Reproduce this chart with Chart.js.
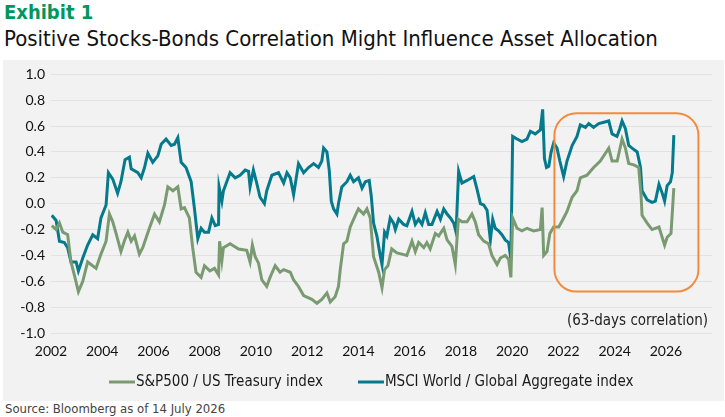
<!DOCTYPE html>
<html>
<head>
<meta charset="utf-8">
<script src="https://cdn.jsdelivr.net/npm/chart.js@4"></script>
<style>
  body { margin: 0; background: #fff; width: 725px; height: 417px; overflow: hidden; position: relative; }
  .cond { font-family: "Liberation Sans Narrow", "DejaVu Sans Condensed", "Roboto", sans-serif; }
  #exhibit { position: absolute; left: 4px; top: 0px; font-size: 20px; font-weight: bold; color: #00965e; }
  #title { position: absolute; left: 4px; top: 26px; font-size: 22px; color: #111; }
  #panel { position: absolute; left: 3px; top: 60px; width: 721px; height: 341px; background: #f2f2f2; }
  #source { position: absolute; left: 5px; top: 401px; font-size: 13px; color: #444; }
</style>
</head>
<body>
<div id="exhibit" class="cond">Exhibit 1</div>
<div id="title" class="cond">Positive Stocks-Bonds Correlation Might Influence Asset Allocation</div>
<div id="panel"><canvas id="corrChart"></canvas></div>
<div id="source" class="cond">Source: Bloomberg as of 14 July 2026</div>

<script>
// --- data ---
const spxLabel = 'S&P500 / US Treasury index';
const msciLabel = 'MSCI World / Global Aggregate index';

const spxYears = [2002.03, 2002.2, 2002.33, 2002.46, 2002.65, 2002.78, 2002.91, 2003.07, 2003.24, 2003.43,
  2003.56, 2003.76, 2003.95, 2004.15, 2004.28, 2004.41, 2004.54, 2004.73, 2004.86, 2005.0,
  2005.13, 2005.26, 2005.45, 2005.58, 2005.84, 2006.04, 2006.23, 2006.43, 2006.56, 2006.76,
  2006.95, 2007.08, 2007.21, 2007.4, 2007.53, 2007.66, 2007.86, 2007.99, 2008.2, 2008.38,
  2008.54, 2008.58, 2008.67, 2008.73, 2008.99, 2009.32, 2009.64, 2009.77, 2009.86, 2009.97,
  2010.1, 2010.23, 2010.42, 2010.55, 2010.75, 2010.94, 2011.08, 2011.34, 2011.47, 2011.66,
  2011.86, 2012.18, 2012.38, 2012.57, 2012.77, 2012.9, 2013.09, 2013.22, 2013.29, 2013.42,
  2013.55, 2013.68, 2013.88, 2014.0, 2014.2, 2014.33, 2014.46, 2014.59, 2014.79, 2014.92,
  2015.02, 2015.15, 2015.3, 2015.5, 2015.7, 2015.89, 2016.09, 2016.22, 2016.35, 2016.55,
  2016.67, 2016.8, 2017.0, 2017.13, 2017.33, 2017.46, 2017.65, 2017.78, 2017.9, 2018.04,
  2018.24, 2018.43, 2018.56, 2018.69, 2018.89, 2019.08, 2019.21, 2019.41, 2019.54, 2019.73,
  2019.86, 2019.95, 2020.02, 2020.19, 2020.38, 2020.58, 2020.84, 2021.1, 2021.17, 2021.23,
  2021.36, 2021.47, 2021.62, 2021.82, 2022.01, 2022.14, 2022.34, 2022.53, 2022.66, 2022.92,
  2023.18, 2023.44, 2023.64, 2023.77, 2023.9, 2024.1, 2024.29, 2024.42, 2024.55, 2024.75,
  2024.94, 2025.03, 2025.07, 2025.27, 2025.46, 2025.73, 2025.95, 2026.05, 2026.2, 2026.31];
const spxValues = [-0.17, -0.20, -0.15, -0.22, -0.24, -0.45, -0.55, -0.68, -0.60, -0.45,
  -0.47, -0.50, -0.39, -0.29, -0.08, -0.14, -0.23, -0.37, -0.29, -0.22,
  -0.29, -0.25, -0.39, -0.34, -0.19, -0.08, -0.14, -0.01, 0.13, 0.10,
  0.13, -0.04, -0.03, -0.11, -0.34, -0.53, -0.57, -0.48, -0.52, -0.50,
  -0.55, -0.29, -0.44, -0.34, -0.31, -0.35, -0.36, -0.45, -0.32, -0.41,
  -0.46, -0.59, -0.64, -0.57, -0.48, -0.53, -0.51, -0.53, -0.59, -0.64,
  -0.71, -0.74, -0.77, -0.74, -0.69, -0.76, -0.72, -0.64, -0.51, -0.31,
  -0.29, -0.18, -0.09, -0.04, -0.08, -0.04, -0.11, -0.41, -0.53, -0.65,
  -0.51, -0.48, -0.35, -0.38, -0.39, -0.40, -0.29, -0.37, -0.30, -0.34,
  -0.30, -0.35, -0.23, -0.25, -0.19, -0.28, -0.33, -0.47, -0.12, -0.14,
  -0.14, -0.08, -0.14, -0.24, -0.29, -0.31, -0.40, -0.47, -0.42, -0.40,
  -0.43, -0.57, -0.11, -0.19, -0.21, -0.19, -0.21, -0.20, -0.03, -0.40,
  -0.37, -0.23, -0.18, -0.18, -0.11, -0.06, 0.05, 0.10, 0.20, 0.22,
  0.28, 0.33, 0.39, 0.43, 0.33, 0.33, 0.50, 0.43, 0.31, 0.30,
  0.28, 0.07, -0.09, -0.15, -0.20, -0.18, -0.32, -0.26, -0.23, 0.12];

const msciYears = [2002.03, 2002.2, 2002.33, 2002.52, 2002.65, 2002.78, 2002.98, 2003.07, 2003.24, 2003.43,
  2003.63, 2003.82, 2003.95, 2004.15, 2004.24, 2004.41, 2004.6, 2004.73, 2004.89, 2005.06,
  2005.13, 2005.39, 2005.52, 2005.65, 2005.78, 2005.97, 2006.17, 2006.3, 2006.49, 2006.69,
  2006.82, 2006.95, 2007.08, 2007.27, 2007.47, 2007.6, 2007.73, 2007.86, 2007.99, 2008.15,
  2008.28, 2008.41, 2008.54, 2008.56, 2008.67, 2008.73, 2008.99, 2009.19, 2009.38, 2009.58,
  2009.71, 2009.77, 2009.9, 2010.03, 2010.16, 2010.33, 2010.42, 2010.62, 2010.88, 2011.08,
  2011.21, 2011.34, 2011.47, 2011.66, 2011.86, 2012.05, 2012.25, 2012.44, 2012.57, 2012.64,
  2012.77, 2012.86, 2012.94, 2013.03, 2013.16, 2013.22, 2013.35, 2013.55, 2013.68, 2013.81,
  2014.0, 2014.14, 2014.27, 2014.42, 2014.5, 2014.59, 2014.72, 2014.85, 2014.92, 2015.02,
  2015.11, 2015.24, 2015.37, 2015.44, 2015.57, 2015.76, 2015.89, 2016.09, 2016.22, 2016.35,
  2016.48, 2016.61, 2016.74, 2016.87, 2017.07, 2017.2, 2017.33, 2017.46, 2017.59, 2017.72,
  2017.81, 2017.91, 2018.04, 2018.24, 2018.5, 2018.63, 2018.76, 2018.89, 2019.02, 2019.15,
  2019.24, 2019.34, 2019.47, 2019.6, 2019.73, 2019.86, 2019.95, 2020.02, 2020.19, 2020.38,
  2020.58, 2020.71, 2020.9, 2021.1, 2021.19, 2021.26, 2021.34, 2021.43, 2021.52, 2021.62,
  2021.75, 2021.86, 2022.01, 2022.14, 2022.34, 2022.53, 2022.66, 2022.86, 2022.99, 2023.18,
  2023.38, 2023.58, 2023.77, 2023.9, 2024.09, 2024.2, 2024.29, 2024.42, 2024.55, 2024.68,
  2024.88, 2025.01, 2025.07, 2025.27, 2025.46, 2025.59, 2025.73, 2025.86, 2025.95, 2026.05,
  2026.18, 2026.25, 2026.31];
const msciValues = [-0.09, -0.13, -0.29, -0.30, -0.34, -0.45, -0.45, -0.52, -0.42, -0.32,
  -0.24, -0.27, -0.11, -0.01, 0.24, 0.19, 0.08, 0.17, 0.34, 0.36,
  0.27, 0.24, 0.20, 0.28, 0.39, 0.32, 0.37, 0.46, 0.50, 0.45,
  0.46, 0.51, 0.32, 0.28, 0.17, -0.04, -0.27, -0.19, -0.22, -0.22,
  -0.11, -0.17, -0.16, 0.13, 0.02, 0.10, 0.24, 0.20, 0.22, 0.26,
  0.25, 0.13, 0.26, 0.16, 0.05, 0.00, 0.10, 0.22, 0.24, 0.16,
  0.24, 0.20, 0.07, 0.31, 0.24, 0.28, 0.31, 0.28, 0.33, 0.43,
  0.40, 0.26, 0.02, -0.04, -0.08, 0.00, 0.13, 0.17, 0.22, 0.17,
  0.20, 0.12, 0.17, 0.18, 0.06, -0.15, -0.25, -0.40, -0.47, -0.22,
  -0.25, -0.11, -0.15, -0.20, -0.12, -0.16, -0.17, -0.06, -0.16, -0.12,
  -0.16, -0.07, -0.16, -0.16, -0.06, -0.12, -0.04, -0.08, -0.11, -0.15,
  -0.22, 0.25, 0.16, 0.18, 0.21, 0.11, 0.00, -0.01, -0.05, -0.28,
  -0.12, -0.19, -0.21, -0.24, -0.28, -0.30, -0.43, 0.52, 0.50, 0.48,
  0.50, 0.56, 0.54, 0.57, 0.73, 0.35, 0.28, 0.29, 0.40, 0.47,
  0.43, 0.33, 0.21, 0.33, 0.45, 0.52, 0.61, 0.59, 0.62, 0.59,
  0.62, 0.63, 0.64, 0.54, 0.52, 0.58, 0.64, 0.58, 0.45, 0.43,
  0.40, 0.28, 0.10, 0.03, 0.01, 0.02, 0.15, 0.08, 0.02, 0.14,
  0.17, 0.24, 0.53];

const yearTicks = [2002, 2004, 2006, 2008, 2010, 2012, 2014, 2016, 2018, 2020, 2022, 2024, 2026];
const corrTicks = [-1.0, -0.8, -0.6, -0.4, -0.2, 0.0, 0.2, 0.4, 0.6, 0.8, 1.0];
const noteText = '(63-days correlation)';

// highlighted period, in data units
const boxRange = { x0: 2021.65, x1: 2027.27, y0: 0.70, y1: -0.68 };

const condFont = '"Liberation Sans Narrow", "DejaVu Sans Condensed", Roboto, sans-serif';
const tickFont = 'Lato, "Open Sans", sans-serif';
const greenCol = '#7a9b72';
const blueCol = '#047a8c';

function toPoints(xs, ys) {
  return xs.map((x, i) => ({ x: x, y: ys[i] }));
}

// --- extras: orange box, note text and the legend ---
const extrasPlugin = {
  id: 'extras',
  afterDatasetsDraw(chart) {
    const { ctx, scales: { x, y }, chartArea } = chart;
    const left = x.getPixelForValue(boxRange.x0);
    const right = x.getPixelForValue(boxRange.x1);
    const top = y.getPixelForValue(boxRange.y0);
    const bottom = y.getPixelForValue(boxRange.y1);
    ctx.save();
    ctx.strokeStyle = '#f58a3d';
    ctx.lineWidth = 2;
    ctx.beginPath();
    ctx.roundRect(left, top, right - left, bottom - top, 22);
    ctx.stroke();

    ctx.fillStyle = '#222';
    ctx.font = '15px ' + condFont;
    ctx.textAlign = 'right';
    ctx.textBaseline = 'middle';
    ctx.fillText(noteText, chartArea.right - 4, y.getPixelForValue(-0.91));
    ctx.restore();
  },
  afterDraw(chart) {
    const { ctx } = chart;
    const legendY = 322;
    let cx = 106;
    ctx.save();
    ctx.font = '15px ' + condFont;
    ctx.textBaseline = 'middle';
    ctx.textAlign = 'left';
    chart.data.datasets.forEach((ds) => {
      ctx.strokeStyle = ds.borderColor;
      ctx.lineWidth = 3;
      ctx.beginPath();
      ctx.moveTo(cx, legendY);
      ctx.lineTo(cx + 26, legendY);
      ctx.stroke();
      ctx.fillStyle = '#1a1a1a';
      ctx.fillText(ds.label, cx + 27, legendY);
      cx += 27 + ctx.measureText(ds.label).width + 35;
    });
    ctx.restore();
  }
};

const ctx = document.getElementById('corrChart').getContext('2d');
const corrChart = new Chart(ctx, {
  type: 'line',
  data: {
    datasets: [
      {
        label: spxLabel,
        data: toPoints(spxYears, spxValues),
        borderColor: greenCol,
        borderWidth: 3,
        pointRadius: 0,
        tension: 0
      },
      {
        label: msciLabel,
        data: toPoints(msciYears, msciValues),
        borderColor: blueCol,
        borderWidth: 3,
        pointRadius: 0,
        tension: 0
      }
    ]
  },
  options: {
    responsive: true,
    maintainAspectRatio: false,
    animation: false,
    layout: { padding: { top: 11, right: 12, left: 0, bottom: 0 } },
    plugins: {
      legend: { display: false },
      tooltip: { enabled: false }
    },
    scales: {
      x: {
        type: 'linear',
        min: 2002,
        max: 2027.8,
        afterBuildTicks: (s) => { s.ticks = yearTicks.map(v => ({ value: v })); },
        afterFit: (s) => { s.height = 68; },
        grid: { display: false, drawTicks: false },
        border: { display: false },
        ticks: {
          padding: 10,
          maxRotation: 0,
          autoSkip: false,
          color: '#111',
          font: { family: tickFont, size: 14 },
          callback: (v) => String(v)
        }
      },
      y: {
        min: -1,
        max: 1,
        afterBuildTicks: (s) => { s.ticks = corrTicks.map(v => ({ value: v })); },
        afterFit: (s) => { s.width = 48; },
        grid: { color: '#e2e2e2', lineWidth: 1, drawTicks: false },
        border: { display: false },
        ticks: {
          padding: 6,
          color: '#111',
          font: { family: tickFont, size: 14 },
          callback: (v) => v.toFixed(1)
        }
      }
    }
  },
  plugins: [extrasPlugin]
});
</script>
</body>
</html>
